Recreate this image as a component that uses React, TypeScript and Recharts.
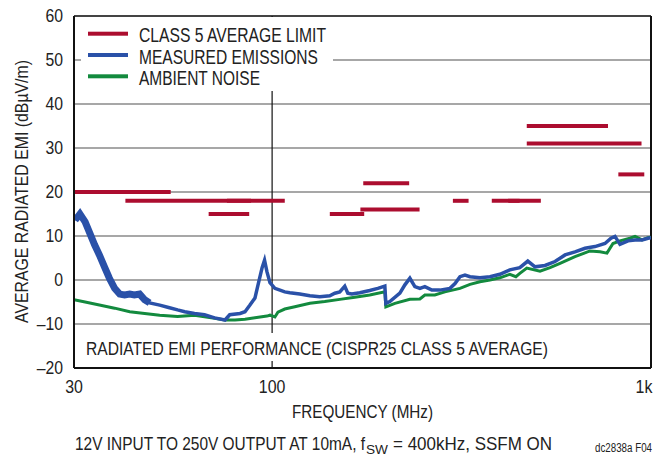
import { CartesianGrid, Legend, Line, LineChart, ReferenceLine, XAxis, YAxis } from "recharts";

const FONT = '"Liberation Sans", Arial, sans-serif';

const xTicks = [30, 100, 1000];
const yTicks = [-20, -10, 0, 10, 20, 30, 40, 50, 60];

// measured emissions (blue)
const measuredFreq = [
  30.2, 31.1, 32.1, 33.0, 34.0, 35.0, 36.1, 37.2, 38.4, 39.6, 40.8, 42.1, 43.3, 44.7, 46.1, 47.5,
  50.5, 53.6, 56.3, 58.8, 62.4, 66.3, 70.5, 75.1, 77.3, 82.3, 84.8, 87.4, 90.1, 91.8, 94.1, 95.5,
  96.9, 98.7, 101.7, 104.9, 108.0, 111.4, 118.3, 125.8, 133.6, 142.0, 146.4, 150.9, 155.5, 158.4,
  162.3, 170.4, 181.0, 190.1, 198.4, 199.6, 204.5, 217.4, 224.1, 231.0, 238.1, 245.5, 253.0, 264.0,
  277.1, 294.7, 303.9, 313.2, 322.9, 332.9, 353.6, 375.8, 399.2, 424.1, 450.6, 473.0, 494.2, 525.1,
  558.1, 593.1, 630.1, 669.5, 711.5, 756.0, 784.1, 803.4, 828.2, 869.5, 907.3, 946.8, 981.9, 1000,
];
const measuredLevel = [
  13.6, 15.0, 13.2, 10.7, 8.0, 5.7, 3.0, 0.4, -1.9, -3.2, -3.4, -3.2, -3.4, -3.2, -4.5, -5.2,
  -5.7, -6.3, -6.8, -7.2, -7.6, -7.9, -8.6, -9.1, -7.9, -7.6, -7.2, -5.7, -4.1, -1.1, 2.8, 4.5,
  1.9, -0.6, -1.9, -2.3, -2.7, -2.9, -3.2, -3.6, -3.8, -3.6, -3.0, -2.7, -1.4, -3.0,
  -3.2, -2.9, -2.4, -1.9, -1.4, -5.3, -4.9, -3.0, -1.1, 0.4, -1.5, -1.9, -1.5, -2.3,
  -2.3, -1.9, -0.8, 0.75, 1.1, 0.75, 0.5, 0.75, 1.3, 2.3, 2.8, 4.3, 3.0, 3.3,
  4.2, 5.7, 6.4, 7.2, 7.6, 8.3, 9.5, 9.9, 8.1, 8.9, 9.1, 9.1, 9.5, 9.6,
];

// ambient noise (green)
const ambientFreq = [
  30, 32.1, 35.0, 38.4, 42.1, 46.1, 50.5, 56.3, 62.4, 70.5, 75.1, 79.8, 84.8, 90.1, 96.9, 98.7,
  101.7, 103.6, 108.0, 114.8, 125.8, 137.7, 150.9, 165.3, 181.0, 198.4, 199.6, 210.9, 231.0, 245.5,
  253.0, 268.8, 285.7, 313.2, 332.9, 353.6, 375.8, 399.2, 424.1, 440.0, 450.6, 470.1, 509.4, 541.4,
  575.3, 630.1, 690.2, 733.4, 765.2, 793.7, 828.2, 880.2, 907.3, 946.8, 981.9, 1000,
];
const ambientLevel = [
  -4.5, -5.0, -5.7, -6.4, -7.2, -7.6, -8.0, -8.3, -8.0, -8.7, -9.1, -9.1, -8.9, -8.6, -8.2, -8.0,
  -8.4, -7.3, -6.6, -6.1, -5.3, -4.9, -4.4, -3.9, -3.4, -2.7, -6.1, -5.3, -4.4, -4.3,
  -3.4, -3.4, -2.7, -1.9, -1.0, -0.4, 0, 0.5, 1.3, 0.75, 1.5, 2.7, 2.0, 2.8,
  3.8, 5.3, 6.6, 6.4, 6.1, 8.3, 8.9, 9.5, 9.9, 9.1, 9.6, 9.7,
];

// CISPR25 class 5 average limit segments
const limitStart = [30, 41, 76, 68, 142, 171, 174, 300, 380, 420, 470, 470, 820];
const limitEnd = [54, 88, 108, 87, 175, 245, 230, 330, 512, 450, 770, 944, 960];
const limitLevel = [20, 18, 18, 15, 15, 16, 22, 18, 18, 18, 35, 31, 24];

const legendLabels = ["CLASS 5 AVERAGE LIMIT", "MEASURED EMISSIONS", "AMBIENT NOISE"];
const legendWidths = [187, 179, 121];
const RED = "#ac0d2f";
const BLUE = "#2a51a8";
const GREEN = "#138a3e";
const legendColors = [RED, BLUE, GREEN];

const measuredData = measuredFreq.map((f, i) => ({ f, v: measuredLevel[i] }));
const noisyData = measuredData.filter((d) => d.f < 48);
const ambientData = ambientFreq.map((f, i) => ({ f, v: ambientLevel[i] }));

function LegendBox() {
  return (
    <div style={{ width: 252, height: 74, background: "#fff" }}>
      <svg width={252} height={74} style={{ display: "block", overflow: "visible" }}>
        {legendLabels.map((label, i) => (
          <g key={label}>
            <rect x={7} y={14.7 + i * 21.3} width={40} height={4} fill={legendColors[i]} />
            <text
              x={58}
              y={25 + i * 21.5}
              fontSize={19.5}
              fontFamily={FONT}
              fill="#222"
              textLength={legendWidths[i]}
              lengthAdjust="spacingAndGlyphs"
            >
              {label}
            </text>
          </g>
        ))}
      </svg>
    </div>
  );
}

function XTick({ x, y, payload }: any) {
  const label = payload.value === 1000 ? "1k" : String(payload.value);
  return (
    <text
      x={x}
      y={y}
      dy="0.71em"
      textAnchor="middle"
      fontSize={18.5}
      fontFamily={FONT}
      fill="#222"
      transform={`translate(${x} ${y}) scale(0.86 1) translate(${-x} ${-y})`}
    >
      {label}
    </text>
  );
}

function YTick({ x, y, payload }: any) {
  const v = payload.value as number;
  const label = v < 0 ? "–" + Math.abs(v) : String(v);
  return (
    <text
      x={x}
      y={y}
      dy="0.355em"
      textAnchor="end"
      fontSize={17.5}
      fontFamily={FONT}
      fill="#222"
      transform={`translate(${x} ${y}) scale(0.9 1) translate(${-x} ${-y})`}
    >
      {label}
    </text>
  );
}

export default function App() {
  return (
    <div style={{ position: "absolute", left: 0, top: 0, width: 660, height: 455, background: "#fff" }}>
      <LineChart
        width={660}
        height={455}
        margin={{ top: 16, right: 9, bottom: 47, left: 0 }}
        style={{ fontFamily: FONT }}
      >
        <CartesianGrid vertical={false} stroke="#8a8a8a" strokeWidth={1.6} />
        <XAxis
          dataKey="f"
          type="number"
          scale="log"
          domain={[30, 1000]}
          ticks={xTicks}
          allowDataOverflow
          height={40}
          tickSize={0}
          tickMargin={12}
          tick={<XTick />}
          axisLine={{ stroke: "#111", strokeWidth: 2 }}
          label={{
            content: (props: any) => {
              const vb = props.viewBox;
              return (
                <g fontFamily={FONT} fill="#222">
                  <text
                    x={vb.x + vb.width / 2}
                    y={vb.y + 50}
                    textAnchor="middle"
                    fontSize={18.5}
                    textLength={141}
                    lengthAdjust="spacingAndGlyphs"
                  >
                    FREQUENCY (MHz)
                  </text>
                  <text
                    x={75}
                    y={450}
                    fontSize={18.5}
                    textLength={290}
                    lengthAdjust="spacingAndGlyphs"
                  >
                    12V INPUT TO 250V OUTPUT AT 10mA, f
                  </text>
                  <text x={366} y={454} fontSize={13} textLength={22} lengthAdjust="spacingAndGlyphs">
                    SW
                  </text>
                  <text
                    x={393}
                    y={450}
                    fontSize={18.5}
                    textLength={159}
                    lengthAdjust="spacingAndGlyphs"
                  >
                    = 400kHz, SSFM ON
                  </text>
                  <text
                    x={595}
                    y={452}
                    fontSize={12}
                    textLength={57}
                    lengthAdjust="spacingAndGlyphs"
                  >
                    dc2838a F04
                  </text>
                </g>
              );
            },
          }}
        />
        <YAxis
          type="number"
          domain={[-20, 60]}
          ticks={yTicks}
          width={74}
          tickSize={0}
          tickMargin={11}
          tick={<YTick />}
          axisLine={{ stroke: "#111", strokeWidth: 2 }}
          label={{
            content: () => (
              <text
                x={28}
                y={191.5}
                transform="rotate(-90, 28, 191.5)"
                textAnchor="middle"
                fontSize={18.5}
                fontFamily={FONT}
                fill="#222"
                textLength={263}
                lengthAdjust="spacingAndGlyphs"
              >
                AVERAGE RADIATED EMI (dBµV/m)
              </text>
            ),
          }}
        />
        <ReferenceLine y={60} stroke="#444" strokeWidth={2} />
        <ReferenceLine x={1000} stroke="#111" strokeWidth={2} />
        <ReferenceLine x={100} stroke="#111" strokeWidth={1.2} />
        {limitLevel.map((lv, i) => (
          <ReferenceLine
            key={i}
            segment={[
              { x: limitStart[i], y: lv },
              { x: limitEnd[i], y: lv },
            ]}
            stroke={RED}
            strokeWidth={4}
          />
        ))}
        <Line
          data={ambientData}
          dataKey="v"
          type="linear"
          stroke={GREEN}
          strokeWidth={3}
          dot={false}
          isAnimationActive={false}
        />
        <Line
          data={noisyData}
          dataKey="v"
          type="linear"
          stroke={BLUE}
          strokeWidth={7}
          dot={false}
          isAnimationActive={false}
        />
        <Line
          data={measuredData}
          dataKey="v"
          type="linear"
          stroke={BLUE}
          strokeWidth={3.5}
          dot={false}
          isAnimationActive={false}
        />
        <Legend
          layout="horizontal"
          verticalAlign="middle"
          align="center"
          content={LegendBox}
          wrapperStyle={{ left: 81, top: 17, width: 252, height: 74 }}
        />
      </LineChart>
      <div
        style={{
          position: "absolute",
          left: 78,
          top: 333,
          width: 482,
          height: 28,
          background: "#fff",
        }}
      >
        <svg width={482} height={28} style={{ display: "block", overflow: "visible" }}>
          <text
            x={8}
            y={22}
            fontSize={18.5}
            fontFamily={FONT}
            fill="#222"
            textLength={462}
            lengthAdjust="spacingAndGlyphs"
          >
            RADIATED EMI PERFORMANCE (CISPR25 CLASS 5 AVERAGE)
          </text>
        </svg>
      </div>
    </div>
  );
}
